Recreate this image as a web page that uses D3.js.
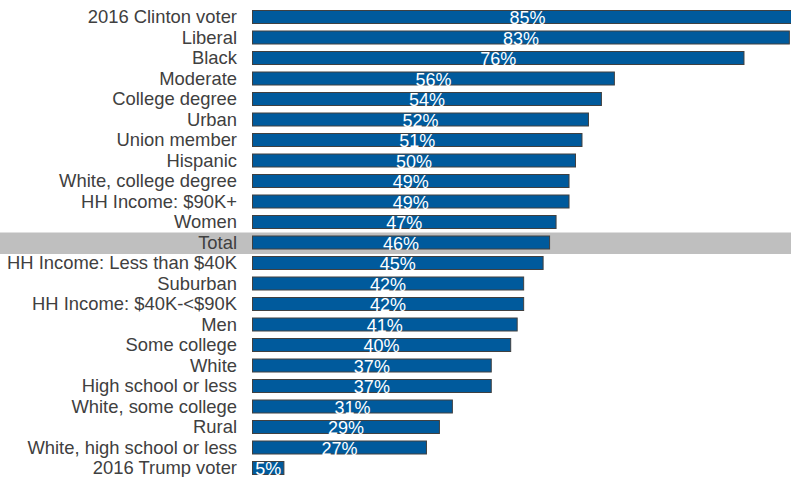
<!DOCTYPE html>
<html>
<head>
<meta charset="utf-8">
<script src="https://cdn.jsdelivr.net/npm/d3@7"></script>
<style>
  html, body { margin: 0; padding: 0; background: #fff; }
  svg { display: block; }
</style>
</head>
<body>
<svg id="chart" width="791" height="477"></svg>
<script>
const categories = [
  "2016 Clinton voter", "Liberal", "Black", "Moderate", "College degree", "Urban",
  "Union member", "Hispanic", "White, college degree", "HH Income: $90K+", "Women",
  "Total", "HH Income: Less than $40K", "Suburban", "HH Income: $40K-<$90K", "Men",
  "Some college", "White", "High school or less", "White, some college", "Rural",
  "White, high school or less", "2016 Trump voter"
];
const values = [85, 83, 76, 56, 54, 52, 51, 50, 49, 49, 47, 46, 45, 42, 42, 41, 40, 37, 37, 31, 29, 27, 5];
const highlight = "Total";

const data = categories.map((c, i) => ({ cat: c, val: values[i] }));

const W = 791, H = 477;
const svg = d3.select("#chart");

const x = d3.scaleLinear().domain([0, 100]).range([252, 900]);
const step = 20.5;
const pIn = 6.5 / step;
const y = d3.scaleBand()
  .domain(categories)
  .range([10 - 3.25, 10 - 3.25 + categories.length * step])
  .paddingInner(pIn)
  .paddingOuter(pIn / 2);

// highlight band
svg.append("rect")
  .attr("x", 0)
  .attr("y", y(highlight) - 3)
  .attr("width", W)
  .attr("height", y.bandwidth() + 7.5)
  .attr("fill", "#bfbfbf");

// bars
svg.append("g").selectAll("rect")
  .data(data)
  .join("rect")
  .attr("x", x(0) + 0.5)
  .attr("y", d => y(d.cat) + 0.5)
  .attr("width", d => x(d.val) - x(0) - 1)
  .attr("height", y.bandwidth() - 1)
  .attr("fill", "#005a9c")
  .attr("stroke", "#404040")
  .attr("stroke-width", 1);

// category labels
svg.append("g").selectAll("text")
  .data(data)
  .join("text")
  .attr("x", 237)
  .attr("y", d => y(d.cat) + y.bandwidth() / 2 + 6.3)
  .attr("text-anchor", "end")
  .attr("font-family", "Liberation Sans, Arial, sans-serif")
  .attr("font-size", 18.4)
  .attr("fill", "#404040")
  .text(d => d.cat);

// value labels
svg.append("g").selectAll("text")
  .data(data)
  .join("text")
  .attr("x", d => (x(0) + x(d.val)) / 2)
  .attr("y", d => y(d.cat) + y.bandwidth() + 0.2)
  .attr("text-anchor", "middle")
  .attr("font-family", "Liberation Sans, Arial, sans-serif")
  .attr("font-size", 18)
  .attr("fill", "#ffffff")
  .text(d => d.val + "%");
</script>
</body>
</html>
